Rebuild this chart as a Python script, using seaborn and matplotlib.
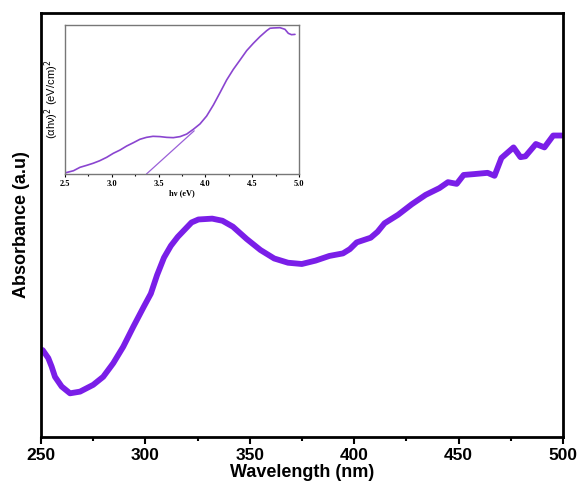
import numpy as np
import pandas as pd
import seaborn as sns
import matplotlib.pyplot as plt
from matplotlib.ticker import MultipleLocator

# main UV-vis absorbance spectrum (arbitrary units)
wavelength = [250.8, 253.5, 255.1, 256.7, 259.9, 263.9, 268.7, 275.0, 279.8, 284.6,
              289.4, 294.2, 299.2, 302.6, 305.6, 308.9, 312.2, 315.5, 318.8, 322.1,
              325.4, 332.0, 336.9, 341.9, 348.5, 355.1, 361.7, 368.3, 374.9, 381.5,
              388.1, 394.6, 397.9, 401.2, 407.9, 411.2, 414.5, 421.0, 427.6, 434.2,
              440.8, 444.9, 449.1, 452.4, 457.3, 463.9, 467.2, 470.5, 476.3, 479.6,
              482.0, 487.0, 491.1, 495.3, 499.4]
absorbance = [0.205, 0.186, 0.166, 0.142, 0.119, 0.103, 0.107, 0.123, 0.142, 0.174,
              0.213, 0.260, 0.307, 0.338, 0.382, 0.423, 0.451, 0.472, 0.489, 0.506,
              0.513, 0.515, 0.510, 0.496, 0.467, 0.441, 0.421, 0.411, 0.408, 0.416,
              0.427, 0.433, 0.443, 0.459, 0.470, 0.484, 0.504, 0.524, 0.549, 0.571,
              0.587, 0.601, 0.597, 0.618, 0.620, 0.623, 0.616, 0.658, 0.683, 0.660,
              0.662, 0.691, 0.683, 0.711, 0.711]

# inset Tauc plot
hv = [2.51, 2.59, 2.66, 2.73, 2.80, 2.87, 2.945, 3.016, 3.088, 3.159, 3.23, 3.30,
      3.37, 3.44, 3.515, 3.586, 3.657, 3.729, 3.80, 3.871, 3.942, 4.013, 4.085,
      4.156, 4.227, 4.298, 4.37, 4.441, 4.512, 4.583, 4.655, 4.69, 4.726, 4.797,
      4.85, 4.886, 4.92, 4.957]
tauc = [0.009, 0.022, 0.045, 0.058, 0.072, 0.089, 0.112, 0.139, 0.161, 0.188, 0.21,
        0.233, 0.246, 0.253, 0.251, 0.246, 0.244, 0.251, 0.268, 0.30, 0.336, 0.389,
        0.463, 0.546, 0.631, 0.702, 0.765, 0.828, 0.877, 0.922, 0.962, 0.978, 0.98,
        0.982, 0.971, 0.944, 0.935, 0.937]
fit_hv = [3.37, 3.88]
fit_y = [0.0, 0.29]

main_df = pd.DataFrame({'wl': wavelength, 'abs': absorbance})
tauc_df = pd.DataFrame({'hv': hv, 'y': tauc})
fit_df = pd.DataFrame({'hv': fit_hv, 'y': fit_y})

sns.set_style('ticks')
plt.rcParams['font.family'] = ['Liberation Sans', 'DejaVu Sans']
plt.rcParams['text.color'] = 'black'
plt.rcParams['axes.labelcolor'] = 'black'
plt.rcParams['xtick.color'] = 'black'

fig = plt.figure(figsize=(5.79, 4.92), dpi=100)
ax = fig.add_axes([0.0708, 0.1118, 0.9016, 0.8618])

purple = '#7a1ee8'
sns.lineplot(data=main_df, x='wl', y='abs', ax=ax, color=purple, lw=4.2)

ax.set_xlim(250, 500)
ax.set_ylim(0, 1)
ax.set_yticks([])
ax.xaxis.set_major_locator(MultipleLocator(50))
ax.xaxis.set_minor_locator(MultipleLocator(25))
ax.tick_params(axis='x', which='major', length=5, width=1.5, labelsize=12.5, pad=3)
ax.tick_params(axis='x', which='minor', length=3, width=1.5)
for lab in ax.get_xticklabels():
    lab.set_fontweight('bold')
for s in ax.spines.values():
    s.set_visible(True)
    s.set_linewidth(2)
    s.set_color('black')
ax.set_xlabel('Wavelength (nm)', fontsize=13, fontweight='bold', labelpad=1)
ax.set_ylabel('Absorbance (a.u)', fontsize=13, fontweight='bold', labelpad=8)

# inset
ins = fig.add_axes([0.1123, 0.6463, 0.4041, 0.3029])
sns.lineplot(data=tauc_df, x='hv', y='y', ax=ins, color='#8a45d0', lw=1.2)
sns.lineplot(data=fit_df, x='hv', y='y', ax=ins, color='#9a60d8', lw=0.9)
ins.set_xlim(2.5, 5.0)
ins.set_ylim(0, 1.0)
ins.set_yticks([])
ins.xaxis.set_major_locator(MultipleLocator(0.5))
ins.xaxis.set_minor_locator(MultipleLocator(0.25))
ins.tick_params(axis='x', which='major', length=2.5, width=0.8, labelsize=6, pad=2)
ins.tick_params(axis='x', which='minor', length=1.5, width=0.8)
for lab in ins.get_xticklabels():
    lab.set_family('Liberation Serif')
    lab.set_fontweight('bold')
for s in ins.spines.values():
    s.set_visible(True)
    s.set_linewidth(1.0)
    s.set_color('#777777')
ins.set_xlabel('hν (eV)', fontsize=6, family='Liberation Serif', fontweight='bold', labelpad=1)
ins.set_ylabel('(αhν)$^2$ (eV/cm)$^2$', fontsize=8, labelpad=3)

fig.savefig('out.png', dpi=100)
